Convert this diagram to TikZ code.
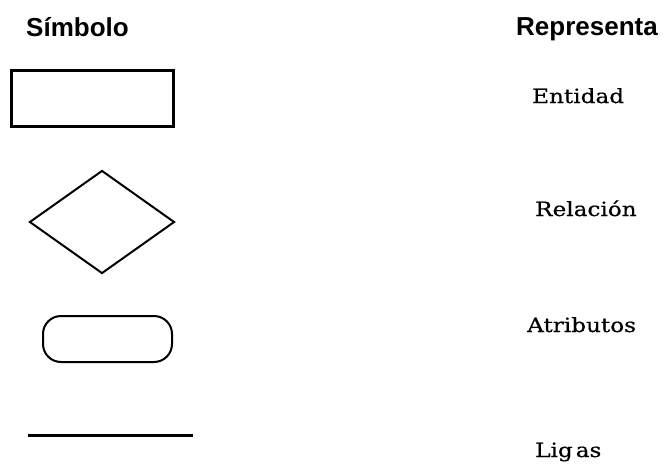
\documentclass[tikz,border=0pt]{standalone}
\usepackage{fontspec}
\usepackage{tikz}
\usetikzlibrary{shapes.geometric}

\setmainfont{Liberation Sans}
\newfontfamily\headfont{Liberation Sans}
\newfontfamily\labelfont{DejaVu Serif}[FakeStretch=1.18,FakeBold=0.6]

\begin{document}
\begin{tikzpicture}[x=1pt,y=-1pt,
  header/.style={anchor=base west,inner sep=0pt,font=\headfont\bfseries\fontsize{26}{30}\selectfont},
  meaning/.style={anchor=base west,inner sep=0pt,font=\labelfont\fontsize{19.6}{22}\selectfont},
  symbolshape/.style={draw,line width=2pt,inner sep=0pt}]

\useasboundingbox (0,0) rectangle (663,463);

% column headers
\node[header] (hsym) at (26,36) {Símbolo};
\node[header] (hrep) at (516,35) {Representa};

% symbols
\node[symbolshape,rectangle,line width=2.5pt,minimum width=162,minimum height=56] (ent) at (92.5,98.5) {};
\node[symbolshape,diamond,minimum width=145,minimum height=103] (rel) at (102,222) {};
\node[symbolshape,rectangle,rounded corners=18pt,minimum width=129,minimum height=46] (atr) at (107.5,339) {};
\coordinate (ligA) at (28,435);
\coordinate (ligB) at (193,435);
\draw[line width=3pt] (ligA) -- (ligB);

% meanings
\node[meaning] (tent) at (532,103) {Entidad};
\node[meaning] (trel) at (535,216) {Relación};
\node[meaning] (tatr) at (527,332) {Atributos};
\node[meaning] (tlig) at (535,457) {Lig\kern3pt as};

\end{tikzpicture}
\end{document}
